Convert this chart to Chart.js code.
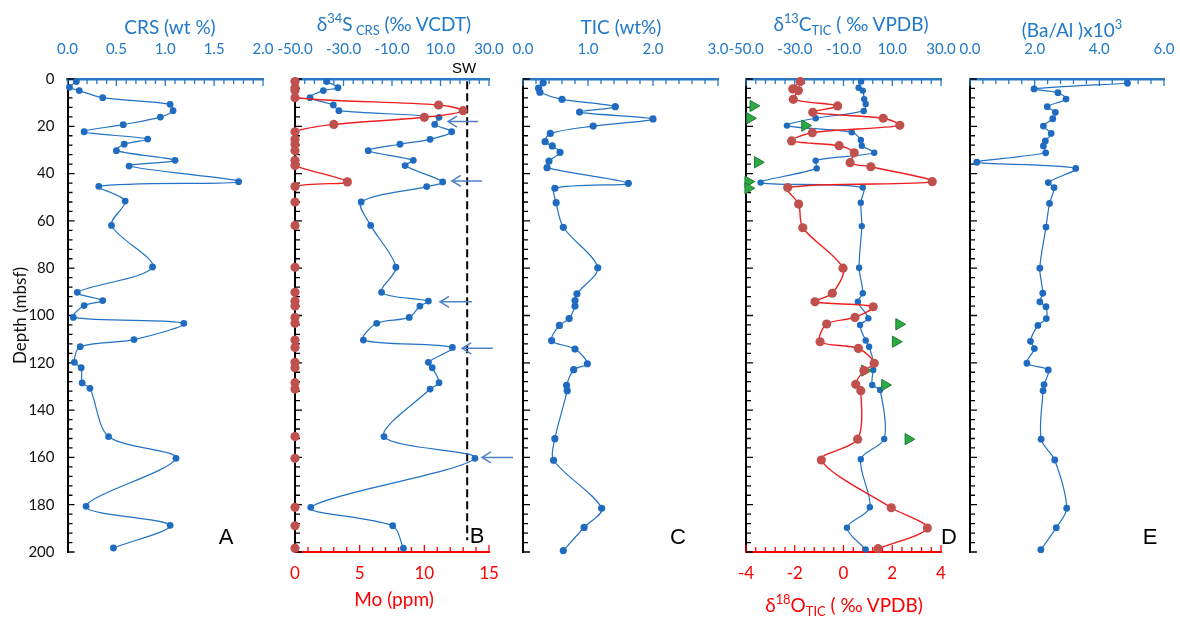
<!DOCTYPE html>
<html lang="fr">
<head>
<meta charset="utf-8">
<title>Profils géochimiques</title>
<script src="https://cdn.jsdelivr.net/npm/chart.js@4.4.1/dist/chart.umd.min.js"></script>
<style>
    html, body { margin: 0; padding: 0; background: #fff; }
    #page { position: relative; width: 1180px; height: 617px; overflow: hidden;
            font-family: Lato, 'Open Sans', sans-serif; }
    canvas { position: absolute; top: 0; }
    .titre { position: absolute; transform: translate(-50%, -50%); white-space: nowrap;
             font-size: 19px; line-height: 1; color: #2179C9; }
    .titre.rouge { color: #FF0000; }
    .titre sup, .titre sub { font-size: 0.68em; line-height: 0; }
    .lettre { position: absolute; transform: translate(-50%, -50%);
              font-family: 'Liberation Sans', Arial, sans-serif; font-size: 22px; color: #000; }
</style>
</head>
<body>
<div id="page">
    <canvas id="panneau-a" width="282" height="617" style="left:0px"></canvas>
    <canvas id="panneau-b" width="262" height="617" style="left:262px"></canvas>
    <canvas id="panneau-c" width="230" height="617" style="left:505px"></canvas>
    <canvas id="panneau-d" width="240" height="617" style="left:722px"></canvas>
    <canvas id="panneau-e" width="232" height="617" style="left:948px"></canvas>

    <div class="titre" style="left:170px; top:26px">CRS (wt %)</div>
    <div class="titre" style="left:394px; top:23px">δ<sup>34</sup>S<sub> CRS</sub> (‰ VCDT)</div>
    <div class="titre" style="left:621px; top:26px">TIC (wt%)</div>
    <div class="titre" style="left:851px; top:23px">δ<sup>13</sup>C<sub>TIC</sub> ( ‰ VPDB)</div>
    <div class="titre" style="left:1072px; top:29px">(Ba/Al )x10<sup>3</sup></div>
    <div class="titre rouge" style="left:394px; top:598px">Mo (ppm)</div>
    <div class="titre rouge" style="left:844px; top:604px">δ<sup>18</sup>O<sub>TIC</sub> ( ‰ VPDB)</div>

    <div class="lettre" style="left:464px; top:67px; font-size:15px">SW</div>
    <div class="lettre" style="left:226px; top:537px">A</div>
    <div class="lettre" style="left:477px; top:536px">B</div>
    <div class="lettre" style="left:678px; top:537px">C</div>
    <div class="lettre" style="left:949px; top:537px">D</div>
    <div class="lettre" style="left:1150px; top:537px">E</div>
</div>

<script>
// ---------------------------------------------------------------------------
// DONNÉES
// ---------------------------------------------------------------------------

// A — CRS (wt %)
const crsDepth = [1.1, 3.5, 4.9, 7.9, 10.7, 13.4, 16.1, 19.3, 22.3, 25.4, 27.6, 30.3, 34.4, 36.8, 43.4, 45.4,
                  51.6, 61.9, 79.5, 90.2, 93.7, 95.8, 100.8, 103.3, 110.2, 113.2, 119.8, 122.1, 128.5, 130.8,
                  151.2, 160.4, 180.7, 188.7, 198.3];
const crsValue = [0.09, 0.02, 0.12, 0.36, 1.05, 1.08, 0.95, 0.57, 0.17, 0.82, 0.58, 0.50, 1.10, 0.63, 1.75, 0.32,
                  0.59, 0.45, 0.87, 0.10, 0.36, 0.17, 0.06, 1.19, 0.68, 0.13, 0.07, 0.14, 0.15, 0.23,
                  0.42, 1.11, 0.19, 1.05, 0.47];

// B — δ34S CRS (‰ VCDT) et Mo (ppm)
const s34Depth = [1.1, 3.7, 4.9, 7.9, 11, 13.4, 16.2, 19.2, 22.3, 25.5, 27.6, 30.3, 34.4, 36.6, 43.5, 45.5,
                  52, 61.9, 79.6, 90.2, 93.9, 96, 100.8, 103.3, 110.4, 113.5, 119.8, 122.1, 128.4, 131.1,
                  151.2, 160.4, 181.1, 188.9, 198.4];
const s34Value = [-36.9, -32.3, -38.3, -43.8, -34.2, -31.9, 9.4, 7.6, 14.6, 5.7, -6.7, -19.8, -1.2, -4.6, 10.9, 4.3,
                  -22.7, -18.8, -8.4, -14.3, 5.0, 1.5, -2.9, -16.3, -21.8, 14.9, 5.0, 6.6, 9.4, 5.7,
                  -13.3, 24.2, -43.5, -9.7, -5.3];
const moValue  = [0, 0, 0, 0, 11.1, 13.0, 10.0, 3.0, 0, 0, 0, 0, 0, 0, 4.05, 0,
                  0, 0, 0, 0, 0, 0, 0, 0, 0, 0, 0, 0, 0, 0,
                  0, 0, 0, 0, 0];
const swDepth  = [1, 195];
const swS34    = 21;
const flecheDepth = [18, 43.1, 94.2, 113.9, 160];
const flecheTete  = [13.1, 14.7, 9.8, 18.9, 27.1];
const flecheQueue = [25.5, 27.1, 23.0, 31.6, 39.9];

// C — TIC (wt%)
const ticDepth = [1.6, 3.9, 5.6, 8.6, 11.7, 14, 16.9, 19.9, 23, 26.5, 28.3, 31, 34.7, 37.5, 44.1, 46.2,
                  52.3, 62.7, 79.8, 90.8, 93.7, 96, 101.3, 104.2, 110.6, 114.2, 120.4, 122.9, 129.5, 131.8,
                  152.1, 161.2, 181.5, 189.6, 199.4];
const ticValue = [0.31, 0.24, 0.26, 0.60, 1.42, 0.87, 2.0, 1.08, 0.42, 0.34, 0.45, 0.57, 0.40, 0.37, 1.62, 0.49,
                  0.51, 0.62, 1.15, 0.83, 0.80, 0.80, 0.71, 0.56, 0.44, 0.80, 0.99, 0.78, 0.67, 0.68,
                  0.49, 0.47, 1.21, 0.94, 0.62];

// D — δ13C TIC et δ18O TIC (‰ VPDB)
const c13Depth = [1.1, 3.7, 4.9, 8.5, 10.6, 13.5, 16.6, 19.7, 22.5, 25.8, 28.2, 31.2, 34.5, 37.8, 43.8, 45.9,
                  52.3, 62.2, 79.8, 90.6, 94.2, 101.2, 104, 110.6, 113.2, 120.2, 123, 129.4, 131.5,
                  152.2, 160.8, 181.1, 189.7, 198.9];
const c13Value = [-2.8, -3.8, -2.1, -1.5, -0.9, -1.7, -21.4, -33.2, -6.6, -2.9, -2.5, 2.6, -21.4, -21.0, -44.0, -2.1,
                  -2.9, -2.5, -3.6, -2.1, -4.1, 0.2, -3.2, -0.9, 0.5, 2.4, 2.2, 1.8, 5.0,
                  6.7, -2.9, 0.8, -8.6, -0.9];
const o18Depth = [1.1, 4.2, 4.9, 8.6, 11.4, 14.1, 16.6, 19.6, 22.7, 26.2, 28.2, 31.2, 35.4, 37.1, 43.4, 45.9,
                  52.9, 62.9, 80, 90.6, 94.2, 96.3, 100.8, 103.6, 111.1, 113.9, 120.2, 123.3, 129.1, 131.8,
                  152.3, 161.1, 181.3, 189.9, 198.6];
const o18Value = [-1.77, -2.08, -1.85, -2.06, -0.24, -1.26, 1.63, 2.31, -1.28, -2.13, -0.18, 0.44, 0.27, 1.12, 3.64, -2.29,
                  -1.84, -1.67, -0.02, -0.46, -1.17, 1.22, 0.47, -0.69, -0.96, 0.61, 1.26, 0.84, 0.50, 0.71,
                  0.58, -0.91, 1.96, 3.44, 1.42];
const triDepth = [11.4, 16.6, 19.7, 35.2, 43.4, 46.2, 103.7, 111.1, 123.3, 129.4, 152.3];
const triValue = [-47.0, -48.4, -25.8, -45.2, -49.1, -49.1, 12.8, 11.4, -1.2, 7.0, 16.6];

// E — (Ba/Al) x10^3
const baDepth = [1.8, 4.2, 5.8, 8.5, 11.7, 14.1, 16.8, 19.9, 23, 26.2, 28.3, 31.2, 35.2, 37.8, 43.8, 45.9,
                 52.6, 62.6, 80, 90.6, 94.2, 96.3, 101.3, 104.2, 110.9, 114, 120.2, 123, 129.2, 131.8,
                 152.3, 161.1, 181.5, 189.7, 199];
const baValue = [4.87, 1.98, 2.72, 2.97, 2.39, 2.64, 2.56, 2.27, 2.51, 2.33, 2.27, 2.34, 0.21, 3.27, 2.42, 2.6,
                 2.46, 2.35, 2.16, 2.25, 2.16, 2.35, 2.36, 2.10, 1.87, 1.99, 1.76, 2.42, 2.29, 2.26,
                 2.2, 2.62, 2.99, 2.67, 2.19];

// ---------------------------------------------------------------------------
// STYLES
// ---------------------------------------------------------------------------

const BLEU_AXE    = '#2B78C5';
const BLEU_TEXTE  = '#2179C9';
const BLEU_LIGNE  = '#2272C6';
const BLEU_POINT  = '#1F6BBF';
const ROUGE       = '#FF0000';
const ROUGE_LIGNE = '#F01E1E';
const ROUGE_POINT = '#C0504D';

Chart.defaults.font.family = "Lato, 'Open Sans', sans-serif";

// ---------------------------------------------------------------------------
// PLUGINS
// ---------------------------------------------------------------------------

// graduations vers l'intérieur (majeures et mineures)
const graduations = {
    id: 'graduations',
    beforeDatasetsDraw(chart, args, opts) {
        const ctx  = chart.ctx;
        const zone = chart.chartArea;
        (opts.axes || []).forEach(a => {
            const sc = chart.scales[a.id];
            const n = Math.round((sc.max - sc.min) / a.mineur);
            const parMajeur = Math.round(a.majeur / a.mineur);
            ctx.save();
            ctx.strokeStyle = a.couleur;
            ctx.lineWidth = 1.3;
            ctx.beginPath();
            for (let i = 0; i <= n; i++) {
                const p = sc.getPixelForValue(sc.min + i * a.mineur);
                const long = i % parMajeur === 0 ? 7 : 5;
                if (a.cote === 'haut') {
                    ctx.moveTo(p, zone.top); ctx.lineTo(p, zone.top + long);
                } else if (a.cote === 'bas') {
                    ctx.moveTo(p, zone.bottom); ctx.lineTo(p, zone.bottom - long);
                } else {
                    ctx.moveTo(zone.left, p); ctx.lineTo(zone.left + long, p);
                }
            }
            ctx.stroke();
            ctx.restore();
        });
    },
};
Chart.register(graduations);

// flèches du panneau B
const fleches = {
    id: 'fleches',
    afterDatasetsDraw(chart) {
        const { ctx, scales: { x, y } } = chart;
        ctx.save();
        ctx.strokeStyle = '#4F81C7';
        ctx.lineWidth = 1.5;
        flecheDepth.forEach((d, i) => {
            const py = y.getPixelForValue(d);
            const hx = x.getPixelForValue(flecheTete[i]);
            const qx = x.getPixelForValue(flecheQueue[i]);
            ctx.beginPath();
            ctx.moveTo(qx, py); ctx.lineTo(hx, py);
            ctx.moveTo(hx + 9, py - 5.5); ctx.lineTo(hx, py); ctx.lineTo(hx + 9, py + 5.5);
            ctx.stroke();
        });
        ctx.restore();
    },
};

// ---------------------------------------------------------------------------
// AXES
// ---------------------------------------------------------------------------

function fixerLargeur(w) {
    return scale => { scale.width = w; scale.paddingTop = 0; scale.paddingBottom = 0; };
}
function fixerHauteur(h) {
    return scale => { scale.height = h; scale.paddingLeft = 0; scale.paddingRight = 0; };
}

function axeProfondeur(largeur, etiquettes) {
    return {
        type: 'linear', reverse: true, min: 0, max: 200,
        afterFit: fixerLargeur(largeur),
        grid:   { display: false, drawTicks: false },
        border: { display: true, color: '#000', width: 2 },
        ticks:  { display: etiquettes, stepSize: 20, padding: 13, color: '#111', font: { size: 15 } },
        title:  { display: etiquettes, text: 'Depth (mbsf)', color: '#111', font: { size: 17 },
                  padding: { top: 10, bottom: 0 } },
    };
}

function axeHaut(min, max, pas) {
    return {
        type: 'linear', position: 'top', min, max,
        afterFit: fixerHauteur(79),
        grid:   { display: false, drawTicks: false },
        border: { display: true, color: BLEU_AXE, width: 2.5 },
        ticks:  { stepSize: pas, autoSkip: false, maxRotation: 0, padding: 21, color: BLEU_TEXTE,
                  font: { size: 15 }, callback: v => v.toFixed(1) },
    };
}

function axeBas(min, max, pas) {
    return {
        type: 'linear', axis: 'x', position: 'bottom', min, max,
        afterFit: fixerHauteur(65),
        grid:   { display: false, drawTicks: false },
        border: { display: true, color: ROUGE, width: 2 },
        ticks:  { stepSize: pas, autoSkip: false, maxRotation: 0, padding: 11, color: ROUGE,
                  font: { size: 17 }, callback: v => String(v) },
    };
}

function optionsPanneau(p) {
    const scales = { y: axeProfondeur(p.yLargeur, !!p.etiquettesY), x: axeHaut(...p.haut) };
    if (p.bas) scales.x2 = axeBas(...p.bas);
    return {
        responsive: false, devicePixelRatio: 1, animation: false, events: [],
        layout: { autoPadding: false,
                  padding: { left: 0, right: p.droite, top: 0, bottom: p.bas ? 0 : 65 } },
        plugins: {
            legend:  { display: false },
            tooltip: { enabled: false },
            graduations: { axes: p.graduations },
        },
        scales,
    };
}

// ---------------------------------------------------------------------------
// SÉRIES
// ---------------------------------------------------------------------------

function points(depths, values) {
    return depths.map((d, i) => ({ x: values[i], y: d }));
}

function serieBleue(depths, values, rayon) {
    return {
        data: points(depths, values), xAxisID: 'x', showLine: true, tension: 0.3, clip: false,
        borderColor: BLEU_LIGNE, borderWidth: 1.2,
        pointRadius: rayon || 3.3, pointBorderWidth: 0, pointBackgroundColor: BLEU_POINT,
    };
}

function serieRouge(depths, values) {
    return {
        data: points(depths, values), xAxisID: 'x2', showLine: true, tension: 0.3, clip: false,
        borderColor: ROUGE_LIGNE, borderWidth: 1.4,
        pointRadius: 4.6, pointBorderWidth: 0, pointBackgroundColor: ROUGE_POINT,
    };
}

const gradDepth = { id: 'y', mineur: 4, majeur: 20, couleur: '#000', cote: 'gauche' };

// ---------------------------------------------------------------------------
// PANNEAUX
// ---------------------------------------------------------------------------

// A
new Chart(document.getElementById('panneau-a'), {
    type: 'scatter',
    data: { datasets: [serieBleue(crsDepth, crsValue, 3.4)] },
    options: optionsPanneau({
        yLargeur: 67.5, droite: 19, etiquettesY: true, haut: [0, 2, 0.5],
        graduations: [{ id: 'x', mineur: 0.1, majeur: 0.5, couleur: BLEU_AXE, cote: 'haut' }, gradDepth],
    }),
});

// B
const serieMo = serieRouge(s34Depth, moValue);
serieMo.segment = {
    borderColor: c => (c.p0.parsed.x === 0 && c.p1.parsed.x === 0) ? 'rgba(0,0,0,0)' : undefined,
};
new Chart(document.getElementById('panneau-b'), {
    type: 'scatter',
    data: {
        datasets: [
            serieMo,
            serieBleue(s34Depth, s34Value, 3.4),
            {
                data: swDepth.map(d => ({ x: swS34, y: d })), xAxisID: 'x', showLine: true,
                borderColor: '#000', borderWidth: 2, borderDash: [8, 4], pointRadius: 0,
            },
        ],
    },
    options: optionsPanneau({
        yLargeur: 33, droite: 35, haut: [-50, 30, 20], bas: [0, 15, 5],
        graduations: [
            { id: 'x', mineur: 4, majeur: 20, couleur: BLEU_AXE, cote: 'haut' },
            { id: 'x2', mineur: 1, majeur: 5, couleur: ROUGE, cote: 'bas' },
            gradDepth,
        ],
    }),
    plugins: [fleches],
});

// C
new Chart(document.getElementById('panneau-c'), {
    type: 'scatter',
    data: { datasets: [serieBleue(ticDepth, ticValue, 3.6)] },
    options: optionsPanneau({
        yLargeur: 18, droite: 17, haut: [0, 3, 1],
        graduations: [{ id: 'x', mineur: 0.2, majeur: 1, couleur: BLEU_AXE, cote: 'haut' }, gradDepth],
    }),
});

// D
new Chart(document.getElementById('panneau-d'), {
    type: 'scatter',
    data: {
        datasets: [
            serieRouge(o18Depth, o18Value),
            {
                data: points(triDepth, triValue), xAxisID: 'x', clip: false,
                pointStyle: 'triangle', rotation: 90, pointRadius: 6.5,
                pointBackgroundColor: '#2EAA45', pointBorderColor: '#1D7C32', pointBorderWidth: 1,
            },
            serieBleue(c13Depth, c13Value, 3.2),
        ],
    },
    options: optionsPanneau({
        yLargeur: 24, droite: 21, haut: [-50, 30, 20], bas: [-4, 4, 2],
        graduations: [
            { id: 'x', mineur: 4, majeur: 20, couleur: BLEU_AXE, cote: 'haut' },
            { id: 'x2', mineur: 0.4, majeur: 2, couleur: ROUGE, cote: 'bas' },
            gradDepth,
        ],
    }),
});

// E
new Chart(document.getElementById('panneau-e'), {
    type: 'scatter',
    data: { datasets: [serieBleue(baDepth, baValue, 3.4)] },
    options: optionsPanneau({
        yLargeur: 22, droite: 16, haut: [0, 6, 2],
        graduations: [{ id: 'x', mineur: 0.4, majeur: 2, couleur: BLEU_AXE, cote: 'haut' }, gradDepth],
    }),
});
</script>
</body>
</html>
